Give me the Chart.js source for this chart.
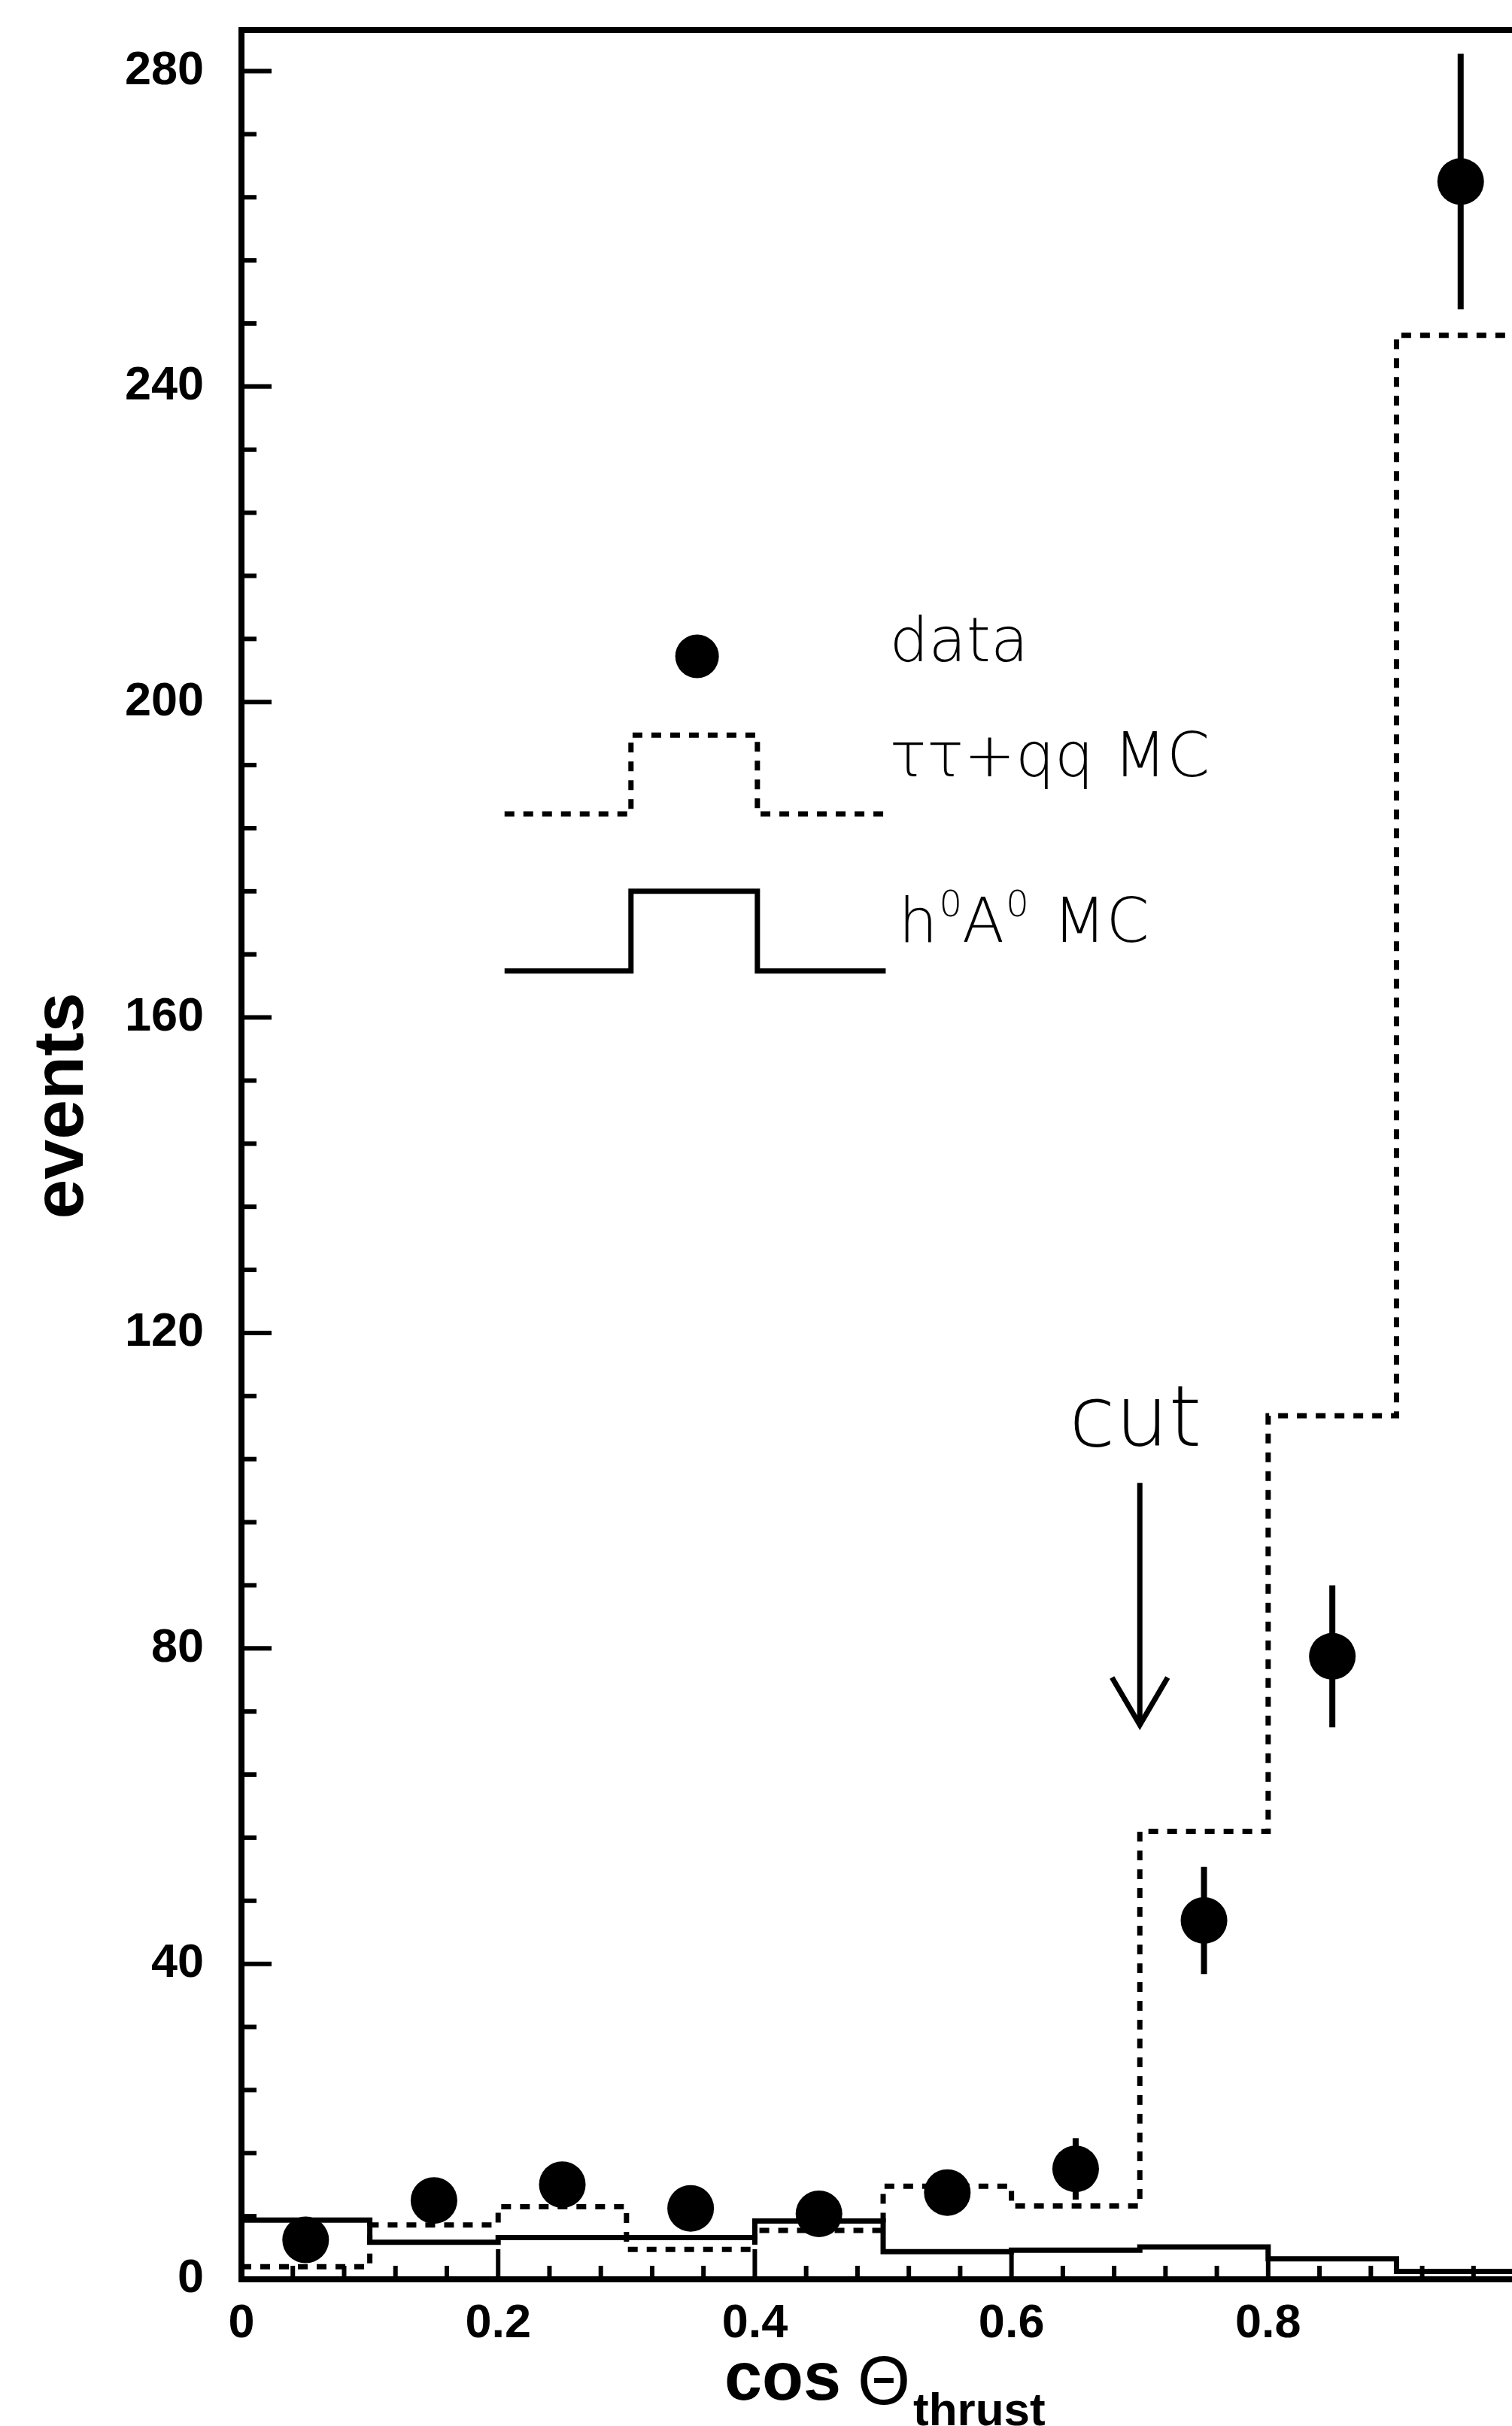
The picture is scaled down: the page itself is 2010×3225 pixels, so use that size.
<!DOCTYPE html>
<html>
<head>
<meta charset="utf-8">
<script src="https://cdn.jsdelivr.net/npm/chart.js@4.4.0/dist/chart.umd.min.js"></script>
<style>
html, body { margin: 0; padding: 0; background: #fff; overflow: hidden; }
#wrap { width: 2010px; height: 3225px; position: relative; }
</style>
</head>
<body>
<div id="wrap"><canvas id="chart"></canvas></div>
<script>
// cos(theta_thrust) bins
const binEdges = [0, 0.1, 0.2, 0.3, 0.4, 0.5, 0.6, 0.7, 0.8, 0.9, 1.0];
const binCenters = [0.05, 0.15, 0.25, 0.35, 0.45, 0.55, 0.65, 0.75, 0.85, 0.95];

// data points and their errors (small ones hide inside the marker)
const dataEvents = [5, 10, 12, 9, 8.3, 11, 14, 45.5, 79, 266];
const dataErrors = [2.2, 2.6, 2.7, 2.5, 2.5, 2.7, 3.9, 6.8, 9, 16.2];

// tau tau + q q MC (dashed) and h0A0 MC (solid)
const bkgMC = [1.6, 6.9, 9.2, 3.8, 6.2, 11.8, 9.3, 56.8, 109.5, 246.5];
const signalMC = [7.5, 4.7, 5.3, 5.3, 7.4, 3.5, 3.7, 4.1, 2.6, 1.0];

const yTicks = [0, 40, 80, 120, 160, 200, 240, 280];
const xTicks = [0, 0.2, 0.4, 0.6, 0.8];

const INK = '#000';
const LABEL_FONT = { family: "'Liberation Sans', Arial, sans-serif", size: 63, weight: 'bold' };
const THIN = "'DejaVu Sans', 'Liberation Sans', sans-serif";

// histogram as a step line: one point per left bin edge plus the closing edge
function stepData(vals) {
    const pts = vals.map((v, i) => ({ x: binEdges[i], y: v }));
    pts.push({ x: binEdges[vals.length], y: vals[vals.length - 1] });
    return pts;
}

const framePlugin = {
    id: 'frame',
    afterDatasetsDraw(chart) {
        const { ctx, chartArea: a, scales: { x, y } } = chart;
        ctx.save();
        ctx.strokeStyle = INK;
        ctx.fillStyle = INK;

        // error bars
        ctx.lineWidth = 8;
        binCenters.forEach((c, i) => {
            const px = x.getPixelForValue(c);
            ctx.beginPath();
            ctx.moveTo(px, y.getPixelForValue(dataEvents[i] + dataErrors[i]));
            ctx.lineTo(px, y.getPixelForValue(dataEvents[i] - dataErrors[i]));
            ctx.stroke();
        });

        // frame (right side is cut off in the original)
        ctx.lineWidth = 8;
        ctx.beginPath();
        ctx.moveTo(chart.width, a.top);
        ctx.lineTo(a.left, a.top);
        ctx.lineTo(a.left, a.bottom);
        ctx.lineTo(chart.width, a.bottom);
        ctx.stroke();

        // inward ticks
        ctx.lineWidth = 6;
        for (let i = 1; i * 8 <= y.max; i++) {
            const py = y.getPixelForValue(i * 8);
            const len = (i % 5 === 0) ? 40 : 20;
            ctx.beginPath();
            ctx.moveTo(a.left, py);
            ctx.lineTo(a.left + len, py);
            ctx.stroke();
        }
        for (let i = 1; i * 0.04 <= x.max; i++) {
            const px = x.getPixelForValue(i * 0.04);
            const len = (i % 5 === 0) ? 40 : 18;
            ctx.beginPath();
            ctx.moveTo(px, a.bottom);
            ctx.lineTo(px, a.bottom - len);
            ctx.stroke();
        }

        // cut arrow at 0.7
        const ax = x.getPixelForValue(0.7);
        const aTop = y.getPixelForValue(101);
        const aTip = y.getPixelForValue(70.3);
        ctx.lineWidth = 7;
        ctx.beginPath();
        ctx.moveTo(ax, aTop);
        ctx.lineTo(ax, aTip);
        ctx.stroke();
        ctx.beginPath();
        ctx.moveTo(ax - 37, aTip - 63);
        ctx.lineTo(ax, aTip);
        ctx.lineTo(ax + 37, aTip - 63);
        ctx.stroke();
        ctx.font = `200 112px ${THIN}`;
        ctx.textAlign = 'center';
        ctx.textBaseline = 'alphabetic';
        ctx.fillText('cut', ax - 6, y.getPixelForValue(105.7));

        // legend inside the plot
        const lx = [0.205, 0.3035, 0.402, 0.502].map(v => x.getPixelForValue(v));
        ctx.beginPath();
        ctx.arc(x.getPixelForValue(0.355), y.getPixelForValue(205.8), 29, 0, Math.PI * 2);
        ctx.fill();

        const legendStep = (lo, hi, dash) => {
            const yl = y.getPixelForValue(lo), yh = y.getPixelForValue(hi);
            ctx.setLineDash(dash);
            ctx.lineWidth = 7;
            ctx.beginPath();
            ctx.moveTo(lx[0], yl);
            ctx.lineTo(lx[1], yl);
            ctx.lineTo(lx[1], yh);
            ctx.lineTo(lx[2], yh);
            ctx.lineTo(lx[2], yl);
            ctx.lineTo(lx[3], yl);
            ctx.stroke();
            ctx.setLineDash([]);
        };
        legendStep(185.8, 195.8, [13, 12]);
        legendStep(165.9, 176, []);

        ctx.textAlign = 'left';
        ctx.font = `200 82px ${THIN}`;
        const tx = x.getPixelForValue(0.505);
        ctx.fillText('data', tx, y.getPixelForValue(205.2));
        ctx.fillText('ττ+qq MC', tx, y.getPixelForValue(190.6));
        const hy = y.getPixelForValue(169.6);
        let cx = tx + 12;
        ctx.fillText('h', cx, hy);
        cx += ctx.measureText('h').width;
        ctx.font = `200 48px ${THIN}`;
        ctx.fillText('0', cx + 2, hy - 34);
        cx += ctx.measureText('0').width + 2;
        ctx.font = `200 82px ${THIN}`;
        ctx.fillText('A', cx, hy);
        cx += ctx.measureText('A').width;
        ctx.font = `200 48px ${THIN}`;
        ctx.fillText('0', cx + 2, hy - 34);
        cx += ctx.measureText('0').width + 2;
        ctx.font = `200 82px ${THIN}`;
        ctx.fillText(' MC', cx + 6, hy);

        // axis titles
        ctx.font = "bold 95px 'Liberation Sans', Arial, sans-serif";
        ctx.save();
        ctx.translate(110, y.getPixelForValue(148.8));
        ctx.rotate(-Math.PI / 2);
        ctx.textAlign = 'center';
        ctx.fillText('events', 0, 0);
        ctx.restore();

        ctx.textAlign = 'left';
        ctx.font = "bold 90px 'Liberation Sans', Arial, sans-serif";
        ctx.fillText('cos', 963, a.bottom + 160);
        ctx.font = "90px 'Liberation Sans', Arial, sans-serif";
        ctx.fillText('Θ', 1140, a.bottom + 166);
        ctx.font = "bold 62px 'Liberation Sans', Arial, sans-serif";
        ctx.fillText('thrust', 1214, a.bottom + 194);

        ctx.restore();
    }
};

new Chart(document.getElementById('chart'), {
    type: 'scatter',
    data: {
        datasets: [
            {
                type: 'line',
                label: 'h0A0 MC',
                data: stepData(signalMC),
                stepped: 'before',
                borderColor: INK,
                borderWidth: 7,
                pointRadius: 0,
                fill: false
            },
            {
                type: 'line',
                label: 'tautau+qq MC',
                data: stepData(bkgMC),
                stepped: 'before',
                borderColor: INK,
                borderWidth: 7,
                borderDash: [13, 12],
                pointRadius: 0,
                fill: false
            },
            {
                type: 'scatter',
                label: 'data',
                data: binCenters.map((c, i) => ({ x: c, y: dataEvents[i] })),
                pointRadius: 31,
                pointBackgroundColor: INK,
                pointBorderWidth: 0
            }
        ]
    },
    options: {
        responsive: true,
        maintainAspectRatio: false,
        animation: false,
        layout: { autoPadding: false, padding: { top: 40, left: 0, right: 0, bottom: 0 } },
        plugins: { legend: { display: false }, tooltip: { enabled: false } },
        scales: {
            x: {
                type: 'linear',
                min: 0,
                max: 0.99,
                grid: { display: false, drawTicks: false },
                border: { display: false },
                afterBuildTicks: s => { s.ticks = xTicks.map(v => ({ value: v })); },
                afterFit: s => { s.height = 195; s.paddingLeft = 0; s.paddingRight = 0; },
                ticks: {
                    color: INK,
                    font: LABEL_FONT,
                    padding: 22,
                    maxRotation: 0,
                    autoSkip: false,
                    callback: v => (v === 0 ? '0' : v.toFixed(1))
                }
            },
            y: {
                min: 0,
                max: 285.2,
                grid: { display: false, drawTicks: false },
                border: { display: false },
                afterBuildTicks: s => { s.ticks = yTicks.map(v => ({ value: v })); },
                afterFit: s => { s.width = 321; s.paddingTop = 0; s.paddingBottom = 0; },
                ticks: {
                    color: INK,
                    font: LABEL_FONT,
                    padding: 50,
                    autoSkip: false
                }
            }
        }
    },
    plugins: [framePlugin]
});
</script>
</body>
</html>
